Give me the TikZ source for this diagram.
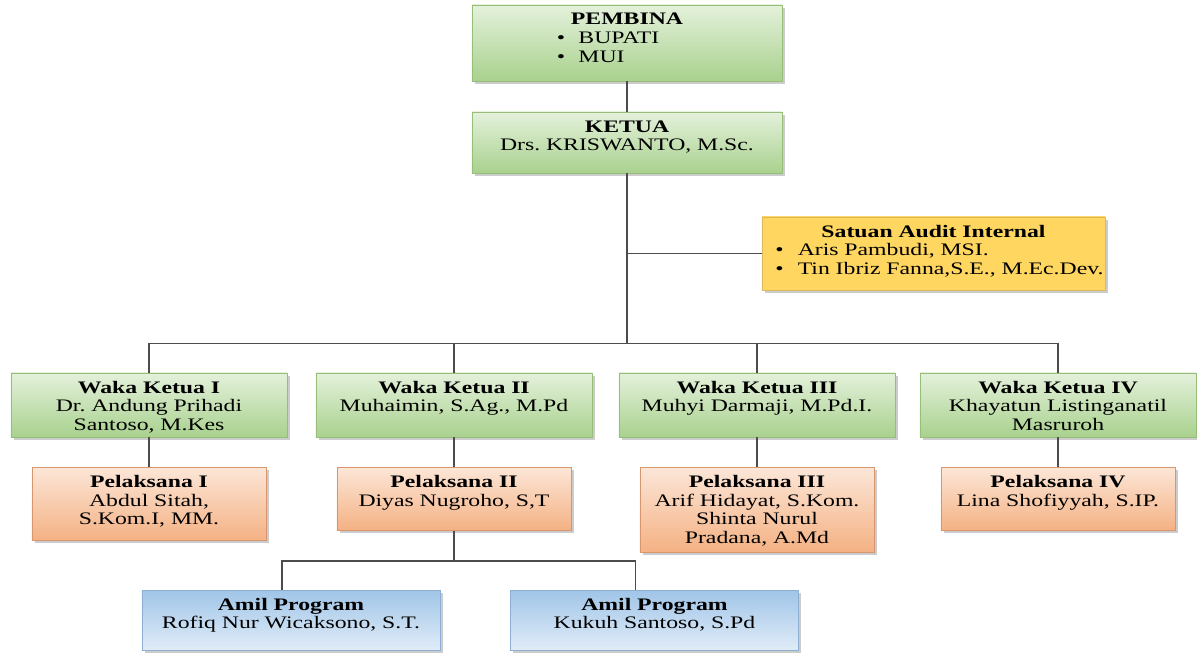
\documentclass[tikz,border=0pt]{standalone}
\usepackage{fontspec}
\setmainfont{Liberation Serif}[FakeStretch=1.35]
\usetikzlibrary{positioning, shadows, calc}
\frenchspacing

\definecolor{grnDark}{RGB}{169,209,142}
\definecolor{grnLight}{RGB}{228,241,219}
\definecolor{grnLine}{RGB}{150,190,120}
\definecolor{orgDark}{RGB}{244,177,131}
\definecolor{orgLight}{RGB}{252,230,215}
\definecolor{orgLine}{RGB}{215,150,110}
\definecolor{ylwDark}{RGB}{255,214,95}
\definecolor{ylwLight}{RGB}{255,243,205}
\definecolor{ylwLine}{RGB}{220,185,90}
\definecolor{bluDark}{RGB}{160,197,232}
\definecolor{bluLight}{RGB}{224,236,248}
\definecolor{bluLine}{RGB}{140,175,210}

\begin{document}
\begin{tikzpicture}[x=0.025cm, y=-0.025cm,
  orgbox/.style={draw, line width=0.4pt, inner xsep=0.1cm, inner ysep=0.1cm,
    align=center, text height=0.4cm, text=black,
    font=\fontsize{12.5}{13.2}\selectfont,
    drop shadow={shadow xshift=2pt, shadow yshift=-2pt, fill=black!40}},
  greenbox/.style={orgbox, draw=grnLine, top color=grnLight, bottom color=grnDark},
  orangebox/.style={orgbox, draw=orgLine, top color=orgLight, bottom color=orgDark},
  yellowbox/.style={orgbox, draw=ylwLine, top color=ylwDark, middle color=ylwLight, bottom color=ylwDark},
  bluebox/.style={orgbox, draw=bluLine, top color=bluDark, bottom color=bluLight},
  wakabox/.style={greenbox, text width=6.7cm, text depth=1.0cm},
  pelbox/.style={orangebox, text width=5.65cm, below=0.75cm of #1},
  amilbox/.style={bluebox, text depth=0.9cm},
  link/.style={draw=black!70, line width=0.9pt}]

  \useasboundingbox (0,0) rectangle (1197,652);

  \node[greenbox, text width=7.55cm, text depth=1.3cm] (pembina) at (627,43)
    {\textbf{PEMBINA}\\
     \makebox[4cm][l]{\hspace{0.25cm}\textbullet\hspace{0.33cm}BUPATI}\\
     \makebox[4cm][l]{\hspace{0.25cm}\textbullet\hspace{0.33cm}MUI}};
  \node[greenbox, text width=7.55cm, text depth=0.925cm] (ketua) at (627,142.5)
    {\textbf{KETUA}\\ Drs. KRISWANTO, M.Sc.};
  \node[yellowbox, text width=8.375cm, text depth=1.225cm] (audit) at (933.5,253.5)
    {\textbf{Satuan Audit Internal}\\
     \makebox[8cm][l]{\hspace{0.05cm}\textbullet\hspace{0.35cm}Aris Pambudi, MSI.}\\
     \makebox[8cm][l]{\hspace{0.05cm}\textbullet\hspace{0.35cm}Tin Ibriz Fanna,S.E., M.Ec.Dev.}};

  \node[wakabox] (waka1) at (149,405) {\textbf{Waka Ketua I}\\ Dr. Andung Prihadi\\ Santoso, M.Kes};
  \node[wakabox] (waka2) at (454,405) {\textbf{Waka Ketua II}\\ Muhaimin, S.Ag., M.Pd};
  \node[wakabox] (waka3) at (757,405) {\textbf{Waka Ketua III}\\ Muhyi Darmaji, M.Pd.I.};
  \node[wakabox] (waka4) at (1058,405) {\textbf{Waka Ketua IV}\\ Khayatun Listinganatil\\ Masruroh};

  \node[pelbox=waka1, text depth=1.225cm] (pel1) {\textbf{Pelaksana I}\\ Abdul Sitah,\\ S.Kom.I, MM.};
  \node[pelbox=waka2, text depth=0.975cm] (pel2) {\textbf{Pelaksana II}\\ Diyas Nugroho, S,T};
  \node[pelbox=waka3, text depth=1.525cm] (pel3) {\textbf{Pelaksana III}\\ Arif Hidayat, S.Kom.\\ Shinta Nurul\\ Pradana, A.Md};
  \node[pelbox=waka4, text depth=0.975cm] (pel4) {\textbf{Pelaksana IV}\\ Lina Shofiyyah, S.IP.};

  \node[amilbox, text width=7.25cm] (amil1) at (291,620) {\textbf{Amil Program}\\ Rofiq Nur Wicaksono, S.T.};
  \node[amilbox, text width=7.0cm] (amil2) at (654.5,620) {\textbf{Amil Program}\\ Kukuh Santoso, S.Pd};

  \path (ketua.south) ++(0,170) coordinate (bus);
  \path (pel2.south) ++(0,30) coordinate (split);

  \draw[link] (pembina) -- (ketua);
  \draw[link] (ketua.south) -- (bus);
  \draw[link] (ketua.south |- audit.west) -- (audit.west);
  \draw[link] (waka1.north) |- (bus) -| (waka4.north);
  \draw[link] (waka2.north) -- (waka2.north |- bus);
  \draw[link] (waka3.north) -- (waka3.north |- bus);
  \foreach \i in {1,...,4}
    \draw[link] (waka\i) -- (pel\i);
  \draw[link] (pel2.south) -- (split);
  \draw[link] ([xshift=-0.225cm]amil1.north) |- (split) -| ([xshift=-0.475cm]amil2.north);
\end{tikzpicture}
\end{document}
